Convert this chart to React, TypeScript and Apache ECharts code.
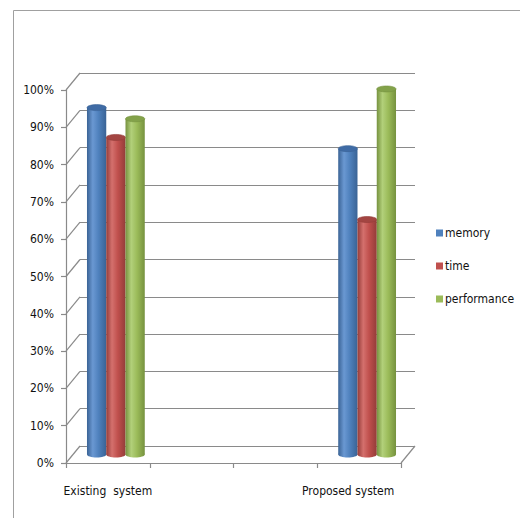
import React, { useEffect, useRef } from "react";
import * as echarts from "echarts";

const categories = ["Existing  system", "", "", "Proposed system"];
const seriesNames = ["memory", "time", "performance"];
const memory = [93, null, null, 82];
const time = [85, null, null, 63];
const performance = [90, null, null, 98];
const yTicks = [0, 10, 20, 30, 40, 50, 60, 70, 80, 90, 100];

const seriesValues = [memory, time, performance];
const baseColors = ["#4F81BD", "#C0504D", "#9BBB59"];
const darkColors = ["#3A6395", "#943C39", "#76923F"];
const lightColors = ["#6A98D2", "#D4706D", "#B2D07A"];
const topColors = ["#3F6BA5", "#A34542", "#83A24A"];

const FONT = "'DejaVu Sans Condensed', 'Liberation Sans', sans-serif";
const FS = 12;
const DX = 14;
const DY = -17;
const GRID_LEFT = 66;
const GRID_TOP = 90;
const GRID_W = 335;
const GRID_H = 373;
const LINE = "#8a8a8a";

export default function App() {
  const ref = useRef<HTMLDivElement>(null);
  useEffect(() => {
    if (!ref.current) return;
    const chart = echarts.init(ref.current, null, { renderer: "svg" });

    const cylinderSeries = seriesNames.map((name, s) => ({
      name,
      type: "custom",
      xAxisIndex: 0,
      yAxisIndex: 0,
      z: 5,
      itemStyle: { color: baseColors[s] },
      data: seriesValues[s]
        .map((v, i) => (v == null ? null : [i, v]))
        .filter((d) => d != null),
      renderItem: (params: any, api: any) => {
        const cat = api.value(0);
        const val = api.value(1);
        const top = api.coord([cat, val]);
        const base = api.coord([cat, 0]);
        const band = api.size([1, 0])[0];
        const bw = band * 0.23;
        const cx = top[0] + (s - 1) * bw + DX / 2 + 1;
        const yTop = top[1] + DY / 2;
        const yBot = base[1] + DY / 2;
        const rx = bw / 2;
        const ry = 3;
        const grad = new echarts.graphic.LinearGradient(0, 0, 1, 0, [
          { offset: 0, color: darkColors[s] },
          { offset: 0.3, color: lightColors[s] },
          { offset: 0.6, color: baseColors[s] },
          { offset: 1, color: darkColors[s] },
        ]);
        return {
          type: "group",
          children: [
            {
              type: "ellipse",
              shape: { cx, cy: yBot, rx, ry },
              style: { fill: grad },
            },
            {
              type: "rect",
              shape: { x: cx - rx, y: yTop, width: bw, height: yBot - yTop },
              style: { fill: grad },
            },
            {
              type: "ellipse",
              shape: { cx, cy: yTop, rx, ry },
              style: { fill: topColors[s], stroke: darkColors[s], lineWidth: 0.6 },
            },
          ],
        };
      },
    }));

    const wallSeries = {
      type: "custom",
      xAxisIndex: 0,
      yAxisIndex: 0,
      silent: true,
      z: 1,
      data: yTicks.map((t) => [0, t]),
      renderItem: (params: any, api: any) => {
        const p = api.coord([0, api.value(1)]);
        const left = params.coordSys.x;
        const right = params.coordSys.x + params.coordSys.width;
        const children: any[] = [
          {
            type: "line",
            shape: { x1: left, y1: p[1], x2: left + DX, y2: p[1] + DY },
            style: { stroke: LINE, lineWidth: 1.2 },
          },
        ];
        if (api.value(1) === 0) {
          children.push({
            type: "line",
            shape: { x1: right, y1: p[1], x2: right + DX, y2: p[1] + DY },
            style: { stroke: LINE, lineWidth: 1.2 },
          });
        }
        return { type: "group", children };
      },
    };

    chart.setOption({
      animation: false,
      backgroundColor: "#ffffff",
      textStyle: { fontFamily: FONT },
      graphic: [
        {
          type: "rect",
          shape: { x: 13.5, y: 10.5, width: 700, height: 700 },
          style: { fill: "none", stroke: "#a0a0a0", lineWidth: 1 },
          silent: true,
        },
      ],
      legend: {
        orient: "vertical",
        left: 431,
        top: 222,
        icon: "rect",
        itemWidth: 7,
        itemHeight: 7,
        itemGap: 21,
        data: seriesNames,
        textStyle: { fontFamily: FONT, fontSize: FS, color: "#111", padding: [0, 0, 0, -3] },
      },
      grid: [
        { left: GRID_LEFT, top: GRID_TOP, width: GRID_W, height: GRID_H },
        { left: GRID_LEFT + DX, top: GRID_TOP + DY, width: GRID_W, height: GRID_H },
      ],
      xAxis: [
        {
          type: "category",
          gridIndex: 0,
          data: categories.map((c, i) =>
            i === 3 ? { value: c, textStyle: { padding: [0, 22, 0, 0] } } : c
          ),
          boundaryGap: true,
          axisLine: { show: true, lineStyle: { color: LINE, width: 1.2 } },
          axisTick: { show: true, length: 5, lineStyle: { color: LINE, width: 1.2 } },
          axisLabel: {
            interval: 0,
            margin: 22,
            fontFamily: FONT,
            fontSize: FS,
            color: "#111",
          },
        },
        {
          type: "category",
          gridIndex: 1,
          data: categories,
          show: false,
        },
      ],
      yAxis: [
        {
          type: "value",
          gridIndex: 0,
          min: 0,
          max: 100,
          interval: 10,
          axisLine: { show: true, lineStyle: { color: LINE, width: 1.2 } },
          axisTick: { show: true, length: 5, lineStyle: { color: LINE, width: 1.2 } },
          splitLine: { show: false },
          axisLabel: {
            formatter: "{value}%",
            margin: 12,
            fontFamily: FONT,
            fontSize: FS,
            color: "#111",
          },
        },
        {
          type: "value",
          gridIndex: 1,
          min: 0,
          max: 100,
          interval: 10,
          axisLine: { show: false },
          axisTick: { show: false },
          axisLabel: { show: false },
          splitLine: { show: true, lineStyle: { color: LINE, width: 1.2 } },
        },
      ],
      series: [wallSeries, ...cylinderSeries],
    });
    return () => chart.dispose();
  }, []);
  return (
    <div
      ref={ref}
      style={{ position: "absolute", left: 0, top: 0, width: 520, height: 518 }}
    />
  );
}
